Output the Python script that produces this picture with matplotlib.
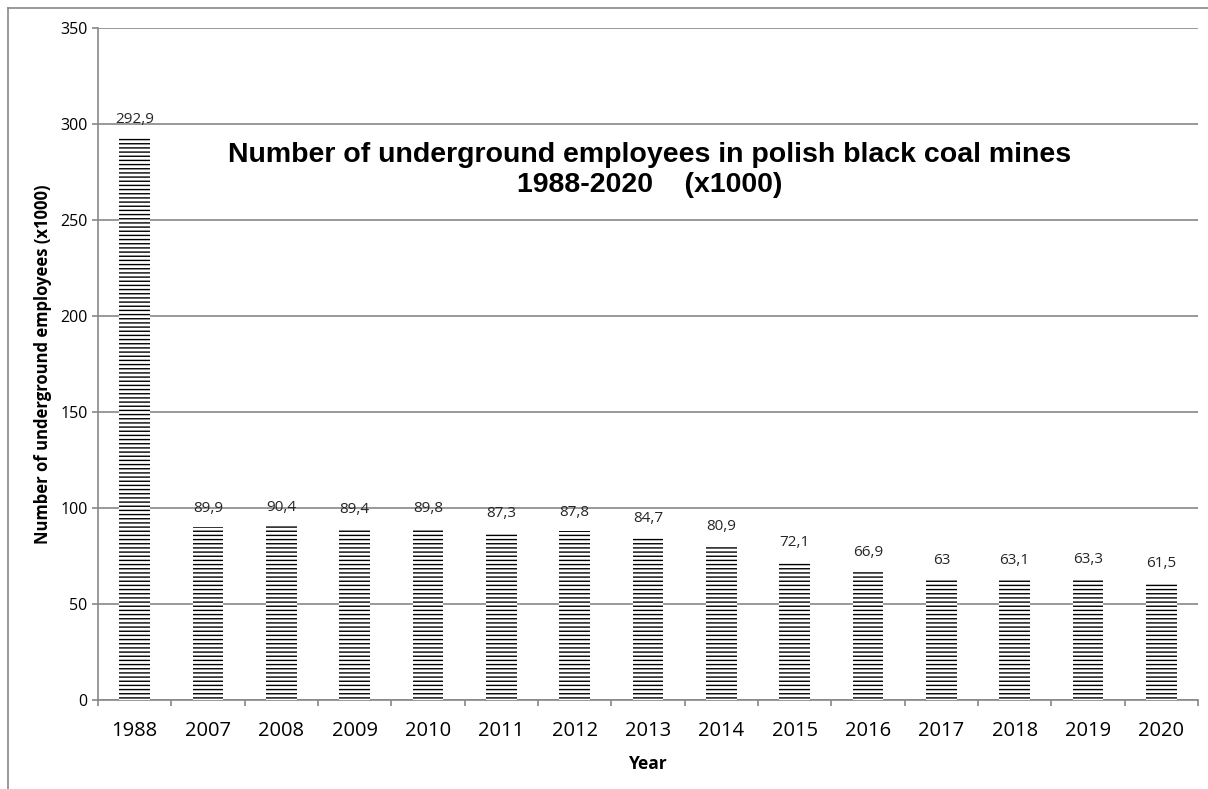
import numpy as np
import matplotlib.pyplot as plt
from matplotlib.lines import Line2D

# datos
years = ['1988', '2007', '2008', '2009', '2010', '2011', '2012', '2013',
         '2014', '2015', '2016', '2017', '2018', '2019', '2020']
employees = [292.9, 89.9, 90.4, 89.4, 89.8, 87.3, 87.8, 84.7,
             80.9, 72.1, 66.9, 63, 63.1, 63.3, 61.5]
labels = ['292,9', '89,9', '90,4', '89,4', '89,8', '87,3', '87,8', '84,7',
          '80,9', '72,1', '66,9', '63', '63,1', '63,3', '61,5']

plt.rcParams['hatch.linewidth'] = 1.0
grey = '#888888'

fig = plt.figure(figsize=(12.08, 7.89), dpi=100)
ax = fig.add_axes([98/1208, 1 - 700/789, 1100/1208, 672/789])

x = np.arange(len(years))
ax.bar(x, employees, width=0.42, color='white', edgecolor='black',
       linewidth=0, hatch='----', zorder=3)

# etiquetas de valor encima de cada barra
for xi, v, lab in zip(x, employees, labels):
    ax.annotate(lab, (xi, v), xytext=(0, 8), textcoords='offset points',
                ha='center', va='bottom', fontsize=11, color='#262626',
                family='Open Sans')

ax.set_xlim(-0.5, len(years) - 0.5)
ax.set_ylim(0, 350)
ax.set_yticks(np.arange(0, 351, 50))
ax.yaxis.grid(True, color=grey, linewidth=1.2, zorder=0)
ax.set_axisbelow(True)

ax.set_xticks(x)
ax.set_xticklabels(years, family='Open Sans', fontsize=14.5)
ax.set_xticks(np.arange(-0.5, len(years), 1), minor=True)
ax.tick_params(axis='x', which='major', length=0, pad=15, colors='black')
ax.tick_params(axis='x', which='minor', length=4.5, width=1.2, color=grey)
ax.tick_params(axis='y', length=4.5, width=1.2, color=grey, pad=3, labelsize=11.5)
for t in ax.get_yticklabels():
    t.set_family('Open Sans')

for s in ['top', 'right']:
    ax.spines[s].set_visible(False)
for s in ['left', 'bottom']:
    ax.spines[s].set_color(grey)
    ax.spines[s].set_linewidth(1.2)

ax.set_xlabel('Year', fontsize=12.5, fontweight='bold', family='Open Sans', labelpad=10)
ax.set_ylabel('Number of underground employees (x1000)', fontsize=12,
              fontweight='bold', family='Open Sans', labelpad=6)

fig.text(650/1208, 1 - 170/789,
         'Number of underground employees in polish black coal mines\n1988-2020    (x1000)',
         ha='center', va='center', fontsize=20.5, fontweight='bold',
         family='Liberation Sans', linespacing=1.22)

# borde del area del grafico
fig.add_artist(Line2D([8/1208, 8/1208], [0, 1 - 8/789], color=grey, linewidth=1.2))
fig.add_artist(Line2D([8/1208, 1], [1 - 8/789, 1 - 8/789], color=grey, linewidth=1.2))

fig.savefig('out.png', dpi=100)
